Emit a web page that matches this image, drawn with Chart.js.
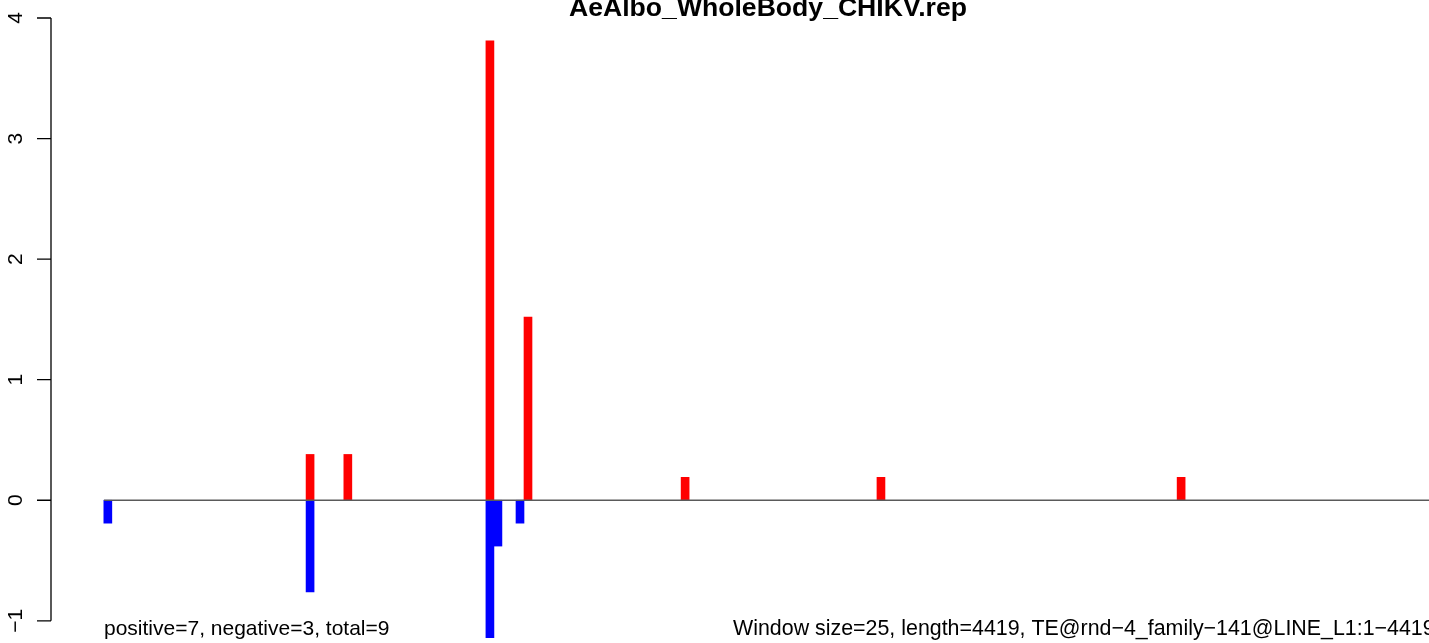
<!DOCTYPE html>
<html>
<head>
<meta charset="utf-8">
<script src="https://cdn.jsdelivr.net/npm/chart.js@4/dist/chart.umd.min.js"></script>
<style>
  html, body { margin: 0; padding: 0; background: #fff; }
  canvas { display: block; }
</style>
</head>
<body>
<canvas id="chart" width="1429" height="643"></canvas>
<script>
// window centres (bp) and scores
const redPos = [644, 762, 1206, 1325, 1816, 2428, 3366];
const redVals = [0.38, 0.38, 3.81, 1.52, 0.19, 0.19, 0.19];
const bluePos = [12, 644, 1206, 1231, 1300];
const blueVals = [-0.19, -0.76, -1.14, -0.38, -0.19];

const yTicks = [-1, 0, 1, 2, 3, 4];
const yTickLabels = [`\u22121`, `0`, `1`, `2`, `3`, `4`];

const seqLength = 4419;
const titleText = `AeAlbo_WholeBody_CHIKV.rep`;
const leftNote = `positive=7, negative=3, total=9`;
const rightNote = `Window size=25, length=4419, TE@rnd\u22124_family\u2212141@LINE_L1:1\u22124419`;

const toPoints = (xs, ys) => xs.map((x, i) => ({x, y: ys[i]}));

const FONT = `"Liberation Sans", Arial, Helvetica, sans-serif`;

// R-style axis, title and margin texts
const rDecor = {
  id: `rDecor`,
  afterDraw(chart) {
    const ctx = chart.ctx;
    const y = chart.scales.y;
    const left = chart.chartArea.left;
    ctx.save();
    ctx.strokeStyle = `#000`;
    ctx.lineWidth = 1.3;
    ctx.beginPath();
    ctx.moveTo(left, y.getPixelForValue(yTicks[0]));
    ctx.lineTo(left, y.getPixelForValue(yTicks[yTicks.length - 1]));
    yTicks.forEach((v) => {
      const py = y.getPixelForValue(v);
      ctx.moveTo(left - 14, py);
      ctx.lineTo(left, py);
    });
    ctx.stroke();

    ctx.fillStyle = `#000`;
    ctx.font = `21px ${FONT}`;
    ctx.textAlign = `center`;
    ctx.textBaseline = `alphabetic`;
    yTicks.forEach((v, i) => {
      const py = y.getPixelForValue(v);
      ctx.save();
      ctx.translate(22, py);
      ctx.rotate(-Math.PI / 2);
      ctx.fillText(yTickLabels[i], 0, 0);
      ctx.restore();
    });

    ctx.font = `bold 26.6px ${FONT}`;
    ctx.textAlign = `center`;
    ctx.fillText(titleText, 768, 16);

    ctx.textAlign = `left`;
    ctx.font = `21px ${FONT}`;
    ctx.fillText(leftNote, 104, 635);
    ctx.font = `21.4px ${FONT}`;
    ctx.fillText(rightNote, 733, 635);
    ctx.restore();
  }
};

const ctx = document.querySelector(`#chart`);

const chart = new Chart(ctx, {
  type: `bar`,
  plugins: [rDecor],
  data: {
    datasets: [
      {
        type: `line`,
        data: [{x: 0, y: 0}, {x: seqLength, y: 0}],
        borderColor: `#5a5a5a`,
        borderWidth: 1.5,
        pointRadius: 0,
        order: 0,
      },
      {
        data: toPoints(redPos, redVals),
        backgroundColor: `#ff0000`,
        barThickness: 8,
        grouped: false,
        borderWidth: 0,
        order: 1,
      },
      {
        data: toPoints(bluePos, blueVals),
        backgroundColor: `#0000ff`,
        barThickness: 8,
        grouped: false,
        borderWidth: 0,
        order: 1,
      },
    ]
  },
  options: {
    responsive: false,
    animation: false,
    layout: {padding: {top: 18, left: 0, right: 0, bottom: 0}},
    plugins: {
      legend: {display: false},
      tooltip: {enabled: false},
    },
    scales: {
      x: {
        type: `linear`,
        display: false,
        offset: false,
        min: -165.6,
        max: 4140.6,
      },
      y: {
        min: -1.184,
        max: 4.0,
        ticks: {display: false},
        grid: {display: false},
        border: {display: false},
        afterFit: (scale) => {
          scale.width = 51;
        },
      },
    },
  },
});
</script>
</body>
</html>
